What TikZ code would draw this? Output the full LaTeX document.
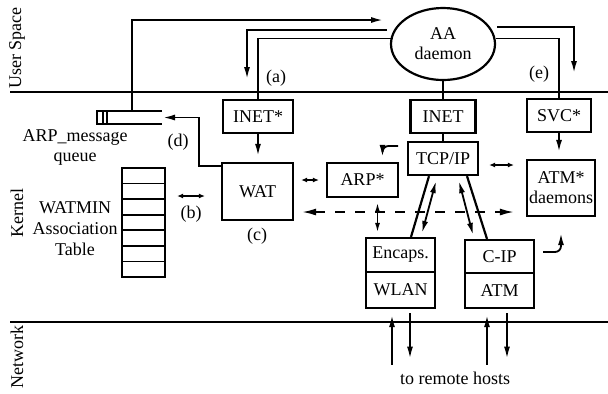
\documentclass[tikz,border=0pt]{standalone}
\usepackage{fontspec}
\setmainfont{Liberation Serif}
\usetikzlibrary{arrows.meta,shapes.geometric}

\begin{document}
\begin{tikzpicture}[x=0.5pt,y=-0.5pt,every node/.style={font=\fontsize{9}{10}\selectfont},
  blk/.style={draw,line width=1.1pt,inner sep=0pt},
  ln/.style={line width=0.9pt},
  arr/.style={ln,-{Latex[length=6pt,width=3pt]}},
  dbl/.style={ln,{Latex[length=3pt,width=2.5pt]}-{Latex[length=3pt,width=2.5pt]}}]
\useasboundingbox (0,0) rectangle (608,393);
% layers
\draw[ln] (10,92) -- (608,92);
\draw[ln] (10,322) -- (608,322);
\node[rotate=90] (us) at (17,48) {User Space};
\node[rotate=90] (kn) at (17,213) {Kernel};
\node[rotate=90] (nw) at (17,357) {Network};
% user space
\node[ellipse,draw,line width=1.1pt,minimum width=52pt,minimum height=36pt,inner sep=0pt,align=center] (aa) at (443,44) {AA\\daemon};
% kernel boxes
\node[blk,minimum width=35pt,minimum height=16.5pt] (inetstar) at (258,116.5) {INET*};
\node[blk,minimum width=35.5pt,minimum height=28.5pt] (wat) at (257.5,191.5) {WAT};
\node[blk,minimum width=35.5pt,minimum height=17pt] (arp) at (362.5,180) {ARP*};
\node[blk,minimum width=32.5pt,minimum height=16.5pt] (inet) at (443,116.5) {INET};
\node[blk,minimum width=35pt,minimum height=16.5pt] (tcpip) at (443,158.5) {TCP/IP};
\node[blk,minimum width=32pt,minimum height=16.5pt] (svc) at (559,115.5) {SVC*};
\node[blk,minimum width=34pt,minimum height=28pt,align=center] (atmd) at (561,188) {ATM*\\daemons};
\node[blk,minimum width=34.5pt,minimum height=17pt] (encaps) at (400.5,255) {Encaps.};
\node[blk,minimum width=34.5pt,minimum height=18pt] (wlan) at (400.5,290) {WLAN};
\node[blk,minimum width=34.5pt,minimum height=16.5pt] (cip) at (499.5,256.5) {C-IP};
\node[blk,minimum width=34.5pt,minimum height=17.5pt] (atm) at (499.5,290.5) {ATM};
% association table
\node[draw,line width=1.1pt,minimum width=21.5pt,minimum height=54.5pt,inner sep=0pt] (table) at (143.5,222.5) {};
\foreach \k in {1,...,6}
  \draw[ln] (122,168+\k*15.57) -- (165,168+\k*15.57);
\node[align=center,font=\fontsize{9}{10.5}\selectfont] (tablbl) at (75,229) {WATMIN\\Association\\Table};
% message queue
\draw[ln] (162,111) -- (97,111) -- (97,124) -- (162,124);
\draw[ln] (103,111) -- (103,124);
\draw[ln] (107,111) -- (107,124);
\coordinate (qtop) at (132,111);
\coordinate (qin) at (163,117.5);
\node[align=center] (qlbl) at (75,147) {ARP\_message\\queue};
\node (hosts) at (455,378) {to remote hosts};
% labels
\node (la) at (276,78) {(a)};
\node (lb) at (191,214) {(b)};
\node (lc) at (257,236) {(c)};
\node (ld) at (178,142) {(d)};
\node (le) at (539,74) {(e)};
% daemon connections
\coordinate (aain) at (383,20);
\coordinate (aout) at (387,30);
\coordinate (ain) at (247,79);
\coordinate (eout) at (497,27);
\coordinate (ein) at (574,73);
\draw[arr] (qtop) -- (132,20) -- (aain);
\draw[arr] (aout) -| (ain);
\draw[ln] (aa.174) -| (inetstar.north);
\draw[ln] (aa.south) -- (inet.north);
\draw[ln] (inet) -- (tcpip);
\draw[ln] (aa.6) -| (svc.north);
\draw[arr] (eout) -| (ein);
% kernel connections
\draw[arr,shorten >=3pt] (inetstar.south) -- (inetstar.south |- wat.north);
\draw[arr,shorten >=3.5pt] (svc.south) -- (svc.south |- atmd.north);
\draw[arr] ([yshift=-2pt]wat.north west) -- ++(-22,0) |- (qin);
\draw[dbl,shorten <=5.5pt,shorten >=8pt] (table.east |- 0,196) -- (wat.west |- 0,196);
\draw[dbl,shorten <=3.5pt,shorten >=3.5pt] (wat.east |- arp) -- (arp.west);
\draw[dbl,shorten <=5pt,shorten >=6pt] (tcpip.east |- 0,165) -- (atmd.west |- 0,165);
\draw[ln,dashed,dash pattern=on 5pt off 5pt,{Latex[length=7pt,width=3.5pt]}-{Latex[length=7pt,width=3.5pt]},shorten <=4pt,shorten >=6pt] (wat.east |- 0,212) -- (atmd.west |- 0,212);
\draw[ln,{Latex[length=5pt,width=2.5pt]}-{Latex[length=5pt,width=2.5pt]},shorten <=2pt,shorten >=2pt] ([xshift=7.5pt]arp.south) -- ([xshift=7.5pt]arp.south |- encaps.north);
\draw[line width=1.1pt] ([xshift=-7pt]tcpip.south) -- ([xshift=5.25pt]encaps.north);
\draw[line width=1.1pt] ([xshift=12pt]tcpip.south) -- ([xshift=-6.25pt]cip.north);
\draw[ln,{Latex[length=6pt,width=3pt]}-{Latex[length=6pt,width=3pt]}] ([xshift=-3.5pt,yshift=-2.5pt]tcpip.south) -- ([xshift=10.75pt,yshift=2pt]encaps.north);
\draw[ln,{Latex[length=6pt,width=3pt]}-{Latex[length=6pt,width=3pt]}] ([xshift=8pt,yshift=-2.5pt]tcpip.south) -- ([xshift=-13.25pt,yshift=2pt]cip.north);
% hooks
\coordinate (hk1) at (398,146);
\coordinate (hk2) at (543,252);
\draw[arr,rounded corners=3pt,shorten >=2.5pt] (hk1) -| ([xshift=10pt]arp.north);
\draw[arr,rounded corners=3pt,shorten >=8pt] (hk2) -| (atmd.south);
% network
\draw[arr,shorten >=3pt] ([xshift=-4.25pt]wlan.south |- hosts.north) -- ([xshift=-4.25pt]wlan.south);
\draw[arr,shorten <=2pt,shorten >=3pt] ([xshift=4.75pt]wlan.south) -- ([xshift=4.75pt]wlan.south |- hosts.north);
\draw[arr,shorten >=3pt] ([xshift=-6.25pt]atm.south |- hosts.north) -- ([xshift=-6.25pt]atm.south);
\draw[arr,shorten <=2pt,shorten >=3pt] ([xshift=3.75pt]atm.south) -- ([xshift=3.75pt]atm.south |- hosts.north);
\end{tikzpicture}
\end{document}
